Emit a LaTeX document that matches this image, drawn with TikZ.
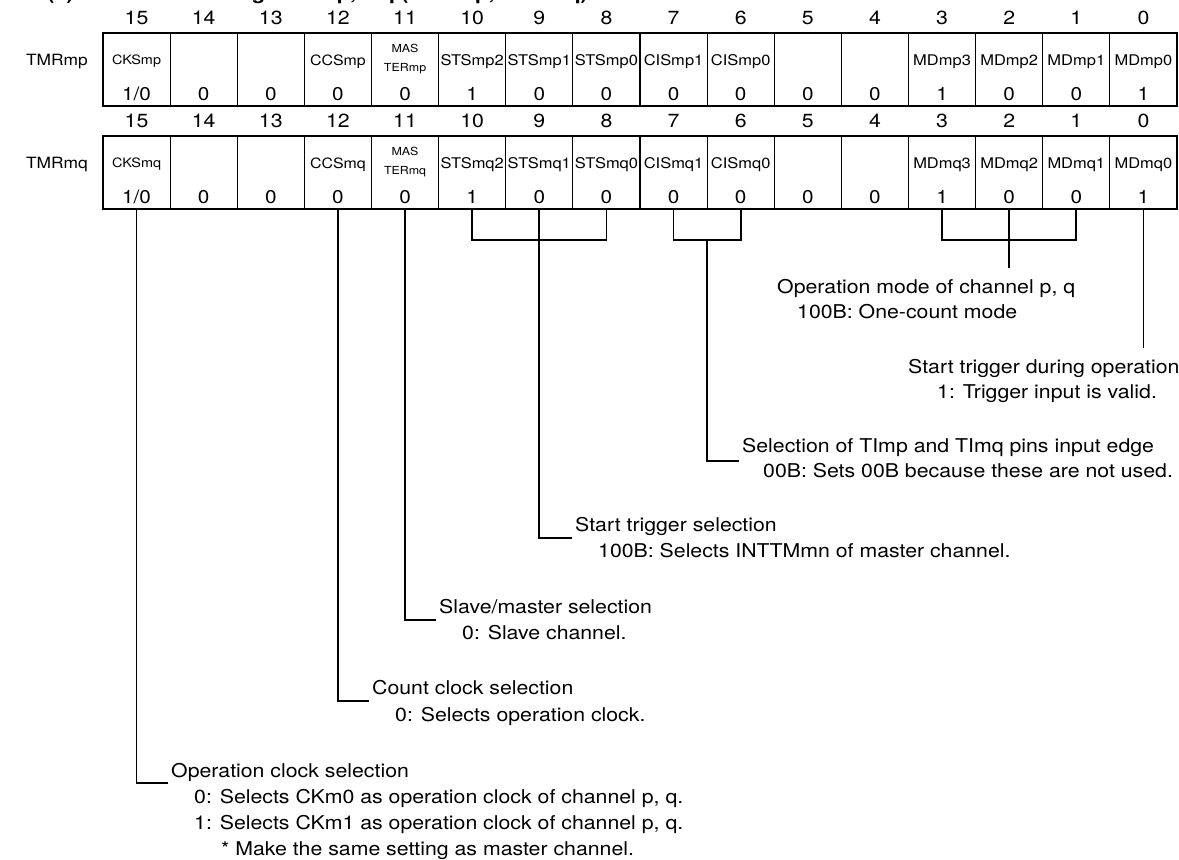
\documentclass[tikz,border=0pt]{standalone}
\usepackage{fontspec}
\setmainfont{TeX Gyre Heros}[FakeStretch=1.12]
\usetikzlibrary{calc}
\begin{document}
\begin{tikzpicture}[x=1pt,y=-1pt,
  conn/.style={line width=1.8pt},
  cellbox/.style={draw,line width=1.2pt,minimum width=67.125pt,minimum height=73pt,inner sep=0pt,outer sep=0pt},
  bitno/.style={inner sep=0pt,font=\fontsize{19}{19}\selectfont,text height=13.7pt,text depth=0pt},
  valtxt/.style={inner sep=0pt,font=\fontsize{18.5}{19}\selectfont,text height=13.3pt,text depth=0pt},
  regname/.style={inner sep=0pt,font=\fontsize{15.5}{16}\selectfont,text height=11.2pt,text depth=0pt},
  fldA/.style={inner sep=0pt,font=\fontsize{14.7}{15}\selectfont,text height=10.6pt,text depth=0pt},
  fldB/.style={inner sep=0pt,font=\fontsize{14.2}{15}\selectfont,text height=10.2pt,text depth=0pt},
  fldC/.style={inner sep=0pt,font=\fontsize{12.9}{13}\selectfont,text height=9.3pt,text depth=0pt},
  fldD/.style={inner sep=0pt,font=\fontsize{11.1}{12}\selectfont,text height=8pt,text depth=0pt},
  desc/.style={inner sep=0pt,anchor=west,font=\fontsize{19}{19}\selectfont,text height=13.7pt,text depth=0pt},
  ttl/.style={inner sep=0pt,anchor=base west,font=\bfseries\fontsize{19.5}{20}\selectfont}
]
\useasboundingbox (0,0) rectangle (1179,860);

% title (cut off at the top edge)
\node[ttl] (ttla) at (47,-1) {(a)};
\node[ttl] (ttlb) at (101,-1) {Timer mode register mp, mq (TMRmp, TMRmq)};

% register labels
\node[regname] (rp) at (57,60) {TMRmp};
\node[regname] (rq) at (57,163) {TMRmq};

% cells and bit numbers
\foreach \i in {0,...,15}{
  \pgfmathsetmacro{\cx}{136.5625+67.125*\i}
  \pgfmathtruncatemacro{\b}{15-\i}
  \node[cellbox] (p\b) at (\cx,69.5) {};
  \node[cellbox] (q\b) at (\cx,172.5) {};
  \node[bitno] (pn\b) at (\cx,18) {\b};
  \node[bitno] (qn\b) at (\cx,121) {\b};
}
\draw[line width=2.4pt] (p15.north west) rectangle (p0.south east);
\draw[line width=2.4pt] (q15.north west) rectangle (q0.south east);

% values
\node[valtxt] (pv15) at (p15 |- 0,94) {1/0};
\node[valtxt] (qv15) at (q15 |- 0,197) {1/0};
\foreach \b/\v in {14/0,13/0,12/0,11/0,10/1,9/0,8/0,7/0,6/0,5/0,4/0,3/1,2/0,1/0,0/1}{
  \node[valtxt] (pv\b) at (p\b |- 0,94) {\v};
  \node[valtxt] (qv\b) at (q\b |- 0,197) {\v};
}

% field names
\foreach \g/\yn/\ym/\yt in {p/60/48/67,q/163/151/170}{
  \node[fldC] (\g nm15) at (\g15 |- 0,\yn) {CKSm\g};
  \node[fldB] (\g nm12) at (\g12 |- 0,\yn) {CCSm\g};
  \node[fldD] (\g nm11a) at (\g11 |- 0,\ym) {MAS};
  \node[fldD] (\g nm11b) at (\g11 |- 0,\yt) {TERm\g};
  \node[fldA] (\g nm10) at (\g10 |- 0,\yn) {STSm\g2};
  \node[fldA] (\g nm9) at (\g9 |- 0,\yn) {STSm\g1};
  \node[fldA] (\g nm8) at (\g8 |- 0,\yn) {STSm\g0};
  \node[fldA] (\g nm7) at (\g7 |- 0,\yn) {CISm\g1};
  \node[fldA] (\g nm6) at (\g6 |- 0,\yn) {CISm\g0};
  \node[fldA] (\g nm3) at (\g3 |- 0,\yn) {MDm\g3};
  \node[fldA] (\g nm2) at (\g2 |- 0,\yn) {MDm\g2};
  \node[fldA] (\g nm1) at (\g1 |- 0,\yn) {MDm\g1};
  \node[fldA] (\g nm0) at (\g0 |- 0,\yn) {MDm\g0};
}

% descriptions
\node[desc] (md1) at (777,287) {Operation mode of channel p, q};
\node[desc] (md2) at (797,312) {100B: One-count mode};
\node[desc] (st1) at (908,367) {Start trigger during operation};
\node[desc] (st2) at (937,392) {1: Trigger input is valid.};
\node[desc] (ci1) at (742,446) {Selection of TImp and TImq pins input edge};
\node[desc] (ci2) at (763,471) {00B: Sets 00B because these are not used.};
\node[desc] (ss1) at (575,525) {Start trigger selection};
\node[desc] (ss2) at (598,551) {100B: Selects INTTMmn of master channel.};
\node[desc] (ms1) at (439,607) {Slave/master selection};
\node[desc] (ms2) at (462,633) {0: Slave channel.};
\node[desc] (cc1) at (372,688) {Count clock selection};
\node[desc] (cc2) at (395,715) {0: Selects operation clock.};
\node[desc] (ck1) at (171,771) {Operation clock selection};
\node[desc] (ck2) at (194,797) {0: Selects CKm0 as operation clock of channel p, q.};
\node[desc] (ck3) at (194,823) {1: Selects CKm1 as operation clock of channel p, q.};
\node[desc] (ck4) at (221,849) {* Make the same setting as master channel.};

% connector coordinates
\coordinate (stsJ) at (q9 |- 0,240);
\coordinate (cisJ) at (706.9375,240);
\coordinate (mdJ) at (q2 |- 0,240);
\coordinate (mdE) at (q2 |- 0,268);
\coordinate (md0E) at (q0 |- 0,348);
\coordinate (cisL) at (739,461);
\coordinate (stsL) at (572,538);
\coordinate (masL) at (436,620);
\coordinate (ccsL) at (369,701);
\coordinate (cksL) at (168,783);

% connectors
\draw[conn] (q3.south) |- (mdJ) -| (q1.south);
\draw[conn] (q2.south) -- (mdJ) -- (mdE);
\draw[conn] (q0.south) -- (md0E);
\draw[conn] (q7.south) |- (cisJ) -| (q6.south);
\draw[conn] (cisJ) |- (cisL);
\draw[conn] (q10.south) |- (stsJ) -| (q8.south);
\draw[conn] (q9.south) -- (stsJ) |- (stsL);
\draw[conn] (q11.south) |- (masL);
\draw[conn] (q12.south) |- (ccsL);
\draw[conn] (q15.south) |- (cksL);
\end{tikzpicture}
\end{document}
